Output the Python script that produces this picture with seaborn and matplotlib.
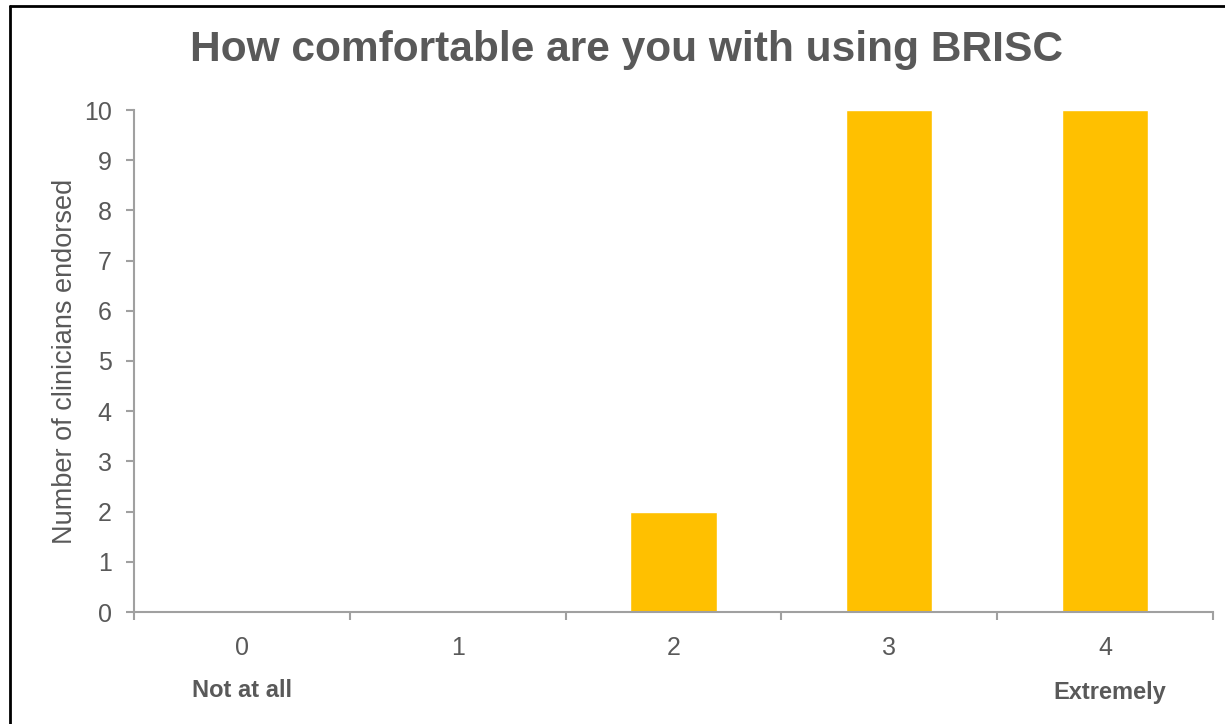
import matplotlib
matplotlib.use("Agg")
import matplotlib.pyplot as plt
from matplotlib.lines import Line2D
from matplotlib.ticker import FixedLocator
import seaborn as sns
import pandas as pd

# Survey responses: comfort rating (0-4) and number of clinicians
ratings = ["0", "1", "2", "3", "4"]
counts = [0, 0, 2, 10, 10]
y_ticks = list(range(0, 11))
end_labels = ["Not at all", "Extremely"]

title = "How comfortable are you with using BRISC"
y_title = "Number of clinicians endorsed"

sns.set_theme(style="white")
plt.rcParams["font.family"] = ["Liberation Sans", "DejaVu Sans"]

text_color = "#595959"
axis_color = "#A0A0A0"
bar_color = "#FFC000"

df = pd.DataFrame({"rating": ratings, "count": counts})

fig = plt.figure(figsize=(12.25, 7.24), dpi=100)
ax = fig.add_axes([134 / 1225, 1 - 612 / 724, (1213 - 134) / 1225, (612 - 110) / 724])

sns.barplot(data=df, x="rating", y="count", order=ratings, color=bar_color,
            saturation=1, width=0.4, ax=ax)

ax.set_xlim(-0.5, len(ratings) - 0.5)
ax.set_ylim(0, 10)
ax.set_yticks(y_ticks)
ax.set_yticklabels([str(v) for v in y_ticks])

# Category boundaries carry the tick marks; labels sit under bar centres
ax.xaxis.set_minor_locator(FixedLocator([i - 0.5 for i in range(len(ratings) + 1)]))
ax.tick_params(axis="x", which="major", length=0, pad=17, labelsize=18, labelcolor=text_color)
ax.tick_params(axis="x", which="minor", bottom=True, length=6, width=1.5, color=axis_color,
               direction="out")
ax.tick_params(axis="y", length=6, width=1.5, color=axis_color, direction="out",
               pad=10, labelsize=18, labelcolor=text_color, left=True)

for side in ["top", "right"]:
    ax.spines[side].set_visible(False)
for side in ["left", "bottom"]:
    ax.spines[side].set_color(axis_color)
    ax.spines[side].set_linewidth(1.5)

ax.set_xlabel("")
ax.set_ylabel(y_title, fontsize=19.5, color=text_color, labelpad=4)

# Scale anchors beneath the first and last categories
trans = ax.get_xaxis_transform()
ax.text(0, -0.157, end_labels[0], transform=trans, ha="center", va="center",
        fontsize=17, fontweight="bold", color=text_color)
ax.text(len(ratings) - 1 + 0.02, -0.161, end_labels[1], transform=trans, ha="center",
        va="center", fontsize=17, fontweight="bold", color=text_color)

fig.text(626 / 1225, 1 - 50 / 724, title, ha="center", va="center",
         fontsize=30.6, fontweight="bold", color=text_color)

# Chart-area frame along the top and left edges
fig.add_artist(Line2D([10 / 1225, 1.01], [1 - 6 / 724, 1 - 6 / 724],
                      transform=fig.transFigure, color="black", linewidth=2))
fig.add_artist(Line2D([10 / 1225, 10 / 1225], [-0.01, 1 - 6 / 724],
                      transform=fig.transFigure, color="black", linewidth=2))

fig.savefig("out.png", dpi=100, facecolor="white")
